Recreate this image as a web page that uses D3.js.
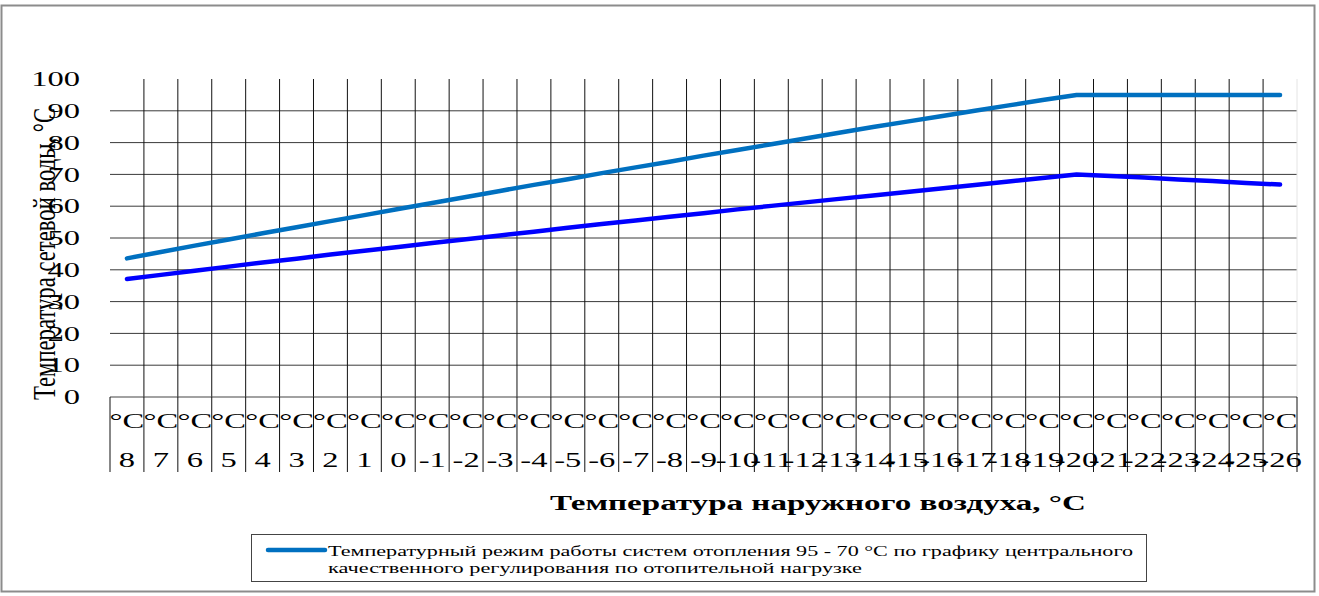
<!DOCTYPE html>
<html>
<head>
<meta charset="utf-8">
<script src="https://cdn.jsdelivr.net/npm/d3@7/dist/d3.min.js"></script>
<style>
  body { margin: 0; background: #fff; }
  text { font-family: "Liberation Serif", "Times New Roman", serif; fill: #000; }
</style>
</head>
<body>
<div id="chart"></div>
<script>
//------------------------------------------------------------------------ Data
// outdoor air temperature, °C (categories, left to right)
var outdoorTemps = ["8","7","6","5","4","3","2","1","0","-1","-2","-3","-4","-5","-6","-7","-8","-9",
  "-10","-11","-12","-13","-14","-15","-16","-17","-18","-19","-20","-21","-22","-23","-24","-25","-26"];

// supply water temperature, °C
var supplyTemps = [43.6,45.6,47.6,49.5,51.5,53.4,55.3,57.2,59.1,61.0,62.9,64.8,66.7,68.5,70.4,72.2,74.0,75.9,
  77.7,79.5,81.3,83.1,84.9,86.6,88.3,90.0,91.7,93.4,95.0,95.0,95.0,95.0,95.0,95.0,95.0];

// return water temperature, °C
var returnTemps = [37.1,38.4,39.7,41.0,42.3,43.5,44.8,46.0,47.2,48.4,49.6,50.8,52.0,53.2,54.4,55.5,56.7,57.8,
  59.0,60.1,61.2,62.3,63.4,64.5,65.6,66.7,67.8,68.9,70.0,69.5,69.0,68.4,67.9,67.3,66.8];

var yTicks = [0,10,20,30,40,50,60,70,80,90,100];
var yGridTicks = [10,20,30,40,50,60,70,80,90];

var yTitle = "Температура сетевой воды, °С";
var xTitle = "Температура наружного воздуха, °С";
var legendLines = ["Температурный режим работы систем отопления 95 - 70 °С по графику центрального",
  "качественного регулирования по отопительной нагрузке"];

//------------------------------------------------------------------------ Variables
var W = 1319, H = 596;
var plot = {left: 110, right: 1297, top: 79, bottom: 397};
var SX = 1.55; // the source picture is stretched sideways
var colSupply = "#0070C0", colReturn = "#0000FF";

//------------------------------------------------------------------------ Chart
var svg = d3.select("#chart").append("svg")
  .attr("width", W)
  .attr("height", H);

// outer frame
svg.append("rect")
  .attr("x", 1.5).attr("y", 5.5)
  .attr("width", 1313).attr("height", 586)
  .attr("fill", "none").attr("stroke", "#8c8c8c").attr("stroke-width", 2);

var x = d3.scaleBand().domain(outdoorTemps).range([plot.left, plot.right]).padding(0);
var y = d3.scaleLinear().domain([0, 100]).range([plot.bottom, plot.top]);
var bw = x.bandwidth();

// horizontal grid
svg.append("g").selectAll("line").data(yGridTicks).join("line")
  .attr("x1", plot.left).attr("x2", plot.right)
  .attr("y1", d => y(d)).attr("y2", d => y(d))
  .attr("stroke", "#3a3a3a").attr("stroke-width", 1);

// vertical grid (between categories)
svg.append("g").selectAll("line").data(outdoorTemps.slice(1)).join("line")
  .attr("x1", d => x(d)).attr("x2", d => x(d))
  .attr("y1", y(100)).attr("y2", y(0))
  .attr("stroke", "#111").attr("stroke-width", 1);

// faint right edge of plot
svg.append("line")
  .attr("x1", plot.right).attr("x2", plot.right)
  .attr("y1", y(100)).attr("y2", y(0))
  .attr("stroke", "#e4e4e4");

// x axis line
svg.append("line")
  .attr("x1", plot.left).attr("x2", plot.right)
  .attr("y1", y(0)).attr("y2", y(0))
  .attr("stroke", "#444").attr("stroke-width", 1.2);

// category dividers under the axis
var bounds = outdoorTemps.map(d => x(d)).concat([x(outdoorTemps[outdoorTemps.length - 1]) + bw]);
svg.append("g").selectAll("line").data(bounds).join("line")
  .attr("x1", d => d).attr("x2", d => d)
  .attr("y1", y(0)).attr("y2", 472)
  .attr("stroke", "#111").attr("stroke-width", 1);

// x tick labels: "°C" above the number
var xl = svg.append("g").selectAll("g").data(outdoorTemps).join("g")
  .attr("transform", d => "translate(" + (x(d) + bw / 2) + ",0) scale(" + SX + ",1)");
xl.append("text")
  .attr("y", 428).attr("text-anchor", "middle").attr("font-size", 21)
  .text("°C");
xl.append("text")
  .attr("y", 467).attr("text-anchor", "middle").attr("font-size", 21)
  .text(d => d);

// y axis
var yAxis = svg.append("g")
  .attr("transform", "translate(" + plot.left + ",0)")
  .call(d3.axisLeft(y).tickValues(yTicks).tickSize(0).tickPadding(0));
yAxis.select(".domain").remove();
yAxis.selectAll("text")
  .attr("x", null)
  .attr("font-size", 21)
  .attr("font-family", "Liberation Serif, Times New Roman, serif")
  .attr("transform", "translate(-30,0) scale(" + SX + ",1)");

// y title (rotated, overlapping tick labels as in the source)
svg.append("text")
  .attr("transform", "translate(55,254) rotate(-90) scale(1," + SX + ")")
  .attr("text-anchor", "middle")
  .attr("font-size", 21)
  .attr("textLength", 292)
  .attr("lengthAdjust", "spacingAndGlyphs")
  .text(yTitle);

// x title
svg.append("text")
  .attr("x", 550).attr("y", 510)
  .attr("font-size", 20).attr("font-weight", "bold")
  .attr("textLength", 536)
  .attr("lengthAdjust", "spacingAndGlyphs")
  .text(xTitle);

// series
var line = d3.line()
  .x((d, i) => x(outdoorTemps[i]) + bw / 2)
  .y(d => y(d));

svg.append("path").datum(supplyTemps)
  .attr("d", line)
  .attr("fill", "none").attr("stroke", colSupply)
  .attr("stroke-width", 4.5).attr("stroke-linecap", "round").attr("stroke-linejoin", "round");

svg.append("path").datum(returnTemps)
  .attr("d", line)
  .attr("fill", "none").attr("stroke", colReturn)
  .attr("stroke-width", 4.5).attr("stroke-linecap", "round").attr("stroke-linejoin", "round");

// legend
var lg = svg.append("g");
lg.append("rect")
  .attr("x", 251.5).attr("y", 534.5)
  .attr("width", 895).attr("height", 47)
  .attr("fill", "#fff").attr("stroke", "#444").attr("stroke-width", 1);
lg.append("line")
  .attr("x1", 268).attr("x2", 325).attr("y1", 550).attr("y2", 550)
  .attr("stroke", colSupply).attr("stroke-width", 4.5).attr("stroke-linecap", "round");
lg.append("text")
  .attr("x", 328).attr("y", 556)
  .attr("font-size", 15)
  .attr("textLength", 805).attr("lengthAdjust", "spacingAndGlyphs")
  .text(legendLines[0]);
lg.append("text")
  .attr("x", 328).attr("y", 573)
  .attr("font-size", 15)
  .attr("textLength", 534).attr("lengthAdjust", "spacingAndGlyphs")
  .text(legendLines[1]);
</script>
</body>
</html>
